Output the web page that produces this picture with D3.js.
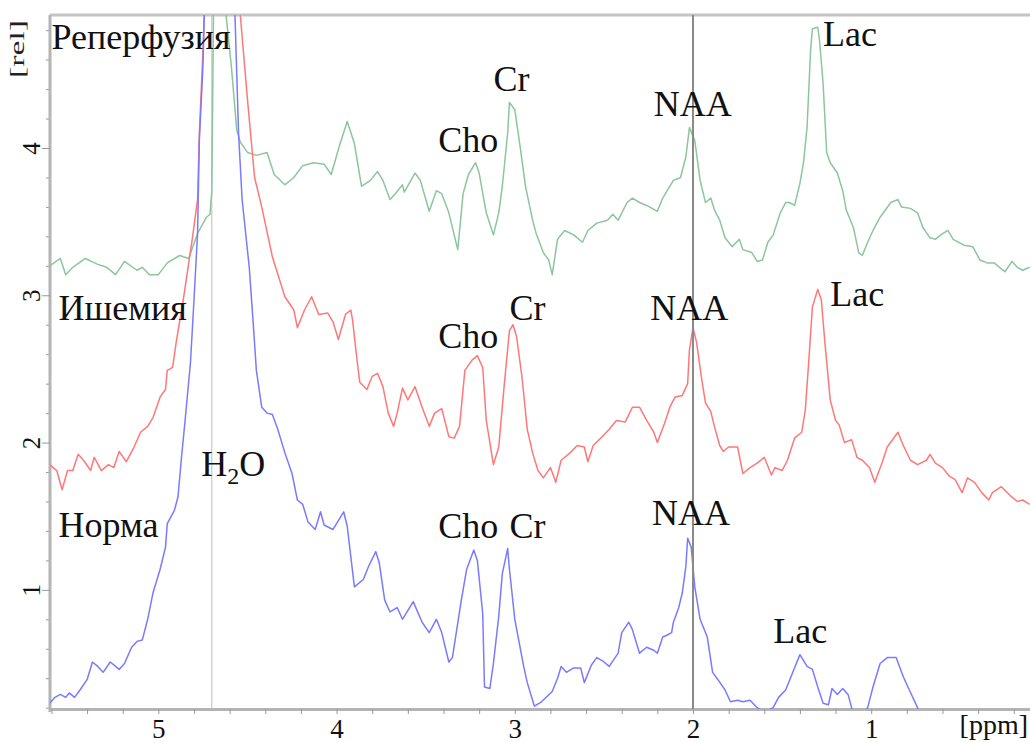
<!DOCTYPE html>
<html>
<head>
<meta charset="utf-8">
<script src="https://cdn.jsdelivr.net/npm/d3@7"></script>
<style>
  html, body { margin: 0; padding: 0; background: #fff; }
  #chart { width: 1030px; height: 743px; }
  svg { display: block; }
</style>
</head>
<body>
<div id="chart"></div>
<script>
// spectra: [ppm, rel]
const reperfusion = [[5.61,3.20],[5.55,3.25],[5.52,3.14],[5.48,3.19],[5.41,3.25],[5.34,3.21],[5.29,3.19],[5.24,3.14],[5.19,3.23],[5.12,3.17],[5.09,3.19],[5.05,3.14],[5.00,3.14],[4.95,3.22],[4.88,3.27],[4.83,3.25],[4.78,3.42],[4.73,3.53],[4.71,3.55],[4.70,3.71],[4.69,5.00],[4.66,8.0],[4.63,5.00],[4.62,4.90],[4.59,4.55],[4.56,4.12],[4.54,4.04],[4.50,3.97],[4.45,3.95],[4.39,3.97],[4.35,3.82],[4.29,3.75],[4.24,3.80],[4.19,3.88],[4.13,3.90],[4.07,3.89],[4.03,3.82],[3.98,4.03],[3.94,4.18],[3.90,4.03],[3.86,3.74],[3.81,3.78],[3.77,3.84],[3.74,3.78],[3.70,3.65],[3.67,3.69],[3.63,3.75],[3.62,3.70],[3.56,3.83],[3.53,3.78],[3.48,3.57],[3.44,3.71],[3.41,3.69],[3.37,3.56],[3.32,3.31],[3.29,3.69],[3.26,3.82],[3.22,3.90],[3.20,3.83],[3.16,3.56],[3.12,3.41],[3.09,3.56],[3.07,3.74],[3.04,4.10],[3.03,4.31],[3.00,4.26],[2.97,4.01],[2.94,3.74],[2.90,3.51],[2.88,3.42],[2.84,3.29],[2.81,3.24],[2.79,3.14],[2.76,3.38],[2.72,3.44],[2.67,3.41],[2.62,3.36],[2.59,3.44],[2.54,3.49],[2.48,3.51],[2.45,3.55],[2.42,3.51],[2.37,3.63],[2.34,3.66],[2.30,3.63],[2.26,3.61],[2.20,3.57],[2.17,3.66],[2.11,3.78],[2.07,3.80],[2.04,3.94],[2.02,4.14],[1.99,4.05],[1.96,3.78],[1.93,3.63],[1.90,3.66],[1.88,3.58],[1.85,3.51],[1.82,3.39],[1.78,3.33],[1.74,3.38],[1.72,3.31],[1.67,3.29],[1.64,3.23],[1.61,3.24],[1.58,3.36],[1.55,3.41],[1.51,3.56],[1.48,3.63],[1.46,3.63],[1.43,3.61],[1.40,3.76],[1.38,3.90],[1.36,4.14],[1.34,4.67],[1.33,4.81],[1.30,4.82],[1.29,4.73],[1.27,4.44],[1.25,3.97],[1.23,3.90],[1.19,3.83],[1.16,3.71],[1.14,3.58],[1.10,3.46],[1.07,3.29],[1.05,3.27],[1.02,3.36],[0.99,3.44],[0.95,3.53],[0.89,3.63],[0.85,3.65],[0.83,3.60],[0.78,3.59],[0.74,3.56],[0.71,3.46],[0.67,3.39],[0.64,3.38],[0.61,3.41],[0.57,3.44],[0.54,3.38],[0.48,3.34],[0.43,3.33],[0.39,3.24],[0.35,3.22],[0.31,3.22],[0.28,3.19],[0.25,3.16],[0.21,3.23],[0.18,3.19],[0.15,3.17],[0.11,3.19]];

const ischemia = [[5.61,1.85],[5.57,1.81],[5.54,1.68],[5.51,1.81],[5.48,1.81],[5.45,1.92],[5.42,1.88],[5.38,1.81],[5.36,1.90],[5.32,1.81],[5.28,1.85],[5.25,1.83],[5.22,1.94],[5.18,1.87],[5.14,1.96],[5.10,2.07],[5.06,2.11],[5.03,2.17],[4.99,2.31],[4.96,2.36],[4.95,2.49],[4.92,2.51],[4.90,2.68],[4.86,2.97],[4.81,3.38],[4.78,3.65],[4.77,4.10],[4.75,4.65],[4.74,5.00],[4.65,8.0],[4.55,5.00],[4.54,4.90],[4.50,4.33],[4.46,3.80],[4.42,3.60],[4.36,3.26],[4.29,2.99],[4.24,2.90],[4.22,2.78],[4.18,2.90],[4.14,2.99],[4.10,2.87],[4.05,2.88],[4.02,2.82],[3.99,2.70],[3.95,2.87],[3.92,2.90],[3.91,2.83],[3.89,2.61],[3.87,2.41],[3.83,2.36],[3.80,2.45],[3.77,2.47],[3.74,2.38],[3.71,2.20],[3.68,2.11],[3.66,2.20],[3.63,2.37],[3.60,2.29],[3.56,2.38],[3.52,2.24],[3.48,2.11],[3.45,2.20],[3.41,2.23],[3.37,2.04],[3.34,2.03],[3.31,2.11],[3.28,2.49],[3.24,2.56],[3.21,2.59],[3.18,2.51],[3.16,2.15],[3.12,1.85],[3.09,1.97],[3.06,2.38],[3.03,2.76],[3.01,2.80],[2.99,2.72],[2.96,2.45],[2.93,2.09],[2.90,1.93],[2.87,1.81],[2.84,1.76],[2.80,1.83],[2.77,1.73],[2.74,1.88],[2.69,1.93],[2.65,1.98],[2.61,1.97],[2.59,1.87],[2.56,1.98],[2.51,2.04],[2.47,2.09],[2.43,2.15],[2.38,2.14],[2.34,2.24],[2.30,2.24],[2.26,2.15],[2.22,2.07],[2.20,2.00],[2.16,2.13],[2.13,2.24],[2.10,2.31],[2.06,2.32],[2.03,2.40],[2.02,2.63],[2.00,2.78],[1.98,2.68],[1.95,2.42],[1.93,2.27],[1.90,2.21],[1.88,2.11],[1.85,1.98],[1.83,1.94],[1.80,1.97],[1.75,1.97],[1.72,1.79],[1.68,1.83],[1.64,1.86],[1.60,1.90],[1.56,1.78],[1.54,1.83],[1.50,1.81],[1.47,1.88],[1.43,2.03],[1.39,2.07],[1.37,2.22],[1.35,2.56],[1.33,2.92],[1.30,3.04],[1.28,2.97],[1.26,2.68],[1.23,2.29],[1.20,2.15],[1.18,2.12],[1.15,2.00],[1.11,2.02],[1.08,1.90],[1.05,1.88],[1.01,1.83],[0.98,1.73],[0.94,1.86],[0.91,1.97],[0.85,2.07],[0.82,1.98],[0.78,1.88],[0.74,1.85],[0.69,1.88],[0.67,1.92],[0.64,1.86],[0.60,1.83],[0.56,1.77],[0.53,1.75],[0.49,1.66],[0.46,1.76],[0.42,1.73],[0.38,1.66],[0.34,1.61],[0.32,1.66],[0.27,1.70],[0.22,1.64],[0.18,1.60],[0.15,1.61],[0.11,1.58]];

const norma = [[5.61,0.23],[5.58,0.27],[5.55,0.29],[5.52,0.27],[5.50,0.30],[5.47,0.27],[5.44,0.32],[5.40,0.39],[5.37,0.51],[5.34,0.48],[5.31,0.44],[5.27,0.51],[5.24,0.48],[5.22,0.46],[5.19,0.50],[5.15,0.61],[5.12,0.65],[5.09,0.66],[5.06,0.80],[5.03,0.98],[4.99,1.14],[4.96,1.29],[4.95,1.45],[4.91,1.54],[4.89,1.63],[4.87,1.90],[4.85,2.15],[4.82,2.54],[4.80,2.97],[4.78,3.42],[4.77,4.05],[4.75,4.55],[4.74,5.00],[4.66,8.0],[4.58,5.00],[4.57,4.90],[4.55,4.10],[4.53,3.65],[4.49,3.19],[4.47,2.85],[4.45,2.49],[4.42,2.24],[4.39,2.20],[4.36,2.19],[4.33,2.09],[4.29,1.93],[4.25,1.79],[4.22,1.61],[4.19,1.58],[4.16,1.46],[4.12,1.41],[4.09,1.53],[4.07,1.44],[4.02,1.41],[3.99,1.47],[3.96,1.53],[3.94,1.43],[3.90,1.02],[3.85,1.07],[3.82,1.16],[3.78,1.26],[3.76,1.18],[3.73,0.93],[3.70,0.85],[3.66,0.88],[3.63,0.80],[3.57,0.92],[3.52,0.78],[3.48,0.71],[3.44,0.80],[3.41,0.71],[3.37,0.51],[3.35,0.54],[3.30,0.93],[3.27,1.14],[3.23,1.27],[3.21,1.20],[3.18,0.84],[3.17,0.34],[3.14,0.33],[3.12,0.50],[3.09,0.82],[3.07,1.11],[3.04,1.28],[3.03,1.14],[3.00,0.80],[2.95,0.48],[2.93,0.37],[2.89,0.21],[2.85,0.24],[2.79,0.31],[2.76,0.40],[2.74,0.48],[2.71,0.44],[2.67,0.47],[2.63,0.47],[2.61,0.37],[2.57,0.49],[2.54,0.54],[2.51,0.52],[2.47,0.48],[2.42,0.57],[2.40,0.71],[2.36,0.78],[2.34,0.73],[2.30,0.57],[2.26,0.61],[2.22,0.59],[2.20,0.57],[2.17,0.68],[2.15,0.69],[2.12,0.71],[2.11,0.78],[2.08,0.88],[2.06,0.98],[2.04,1.16],[2.03,1.35],[2.01,1.29],[1.99,1.02],[1.96,0.80],[1.92,0.68],[1.89,0.44],[1.86,0.39],[1.82,0.32],[1.79,0.24],[1.75,0.25],[1.72,0.24],[1.68,0.25],[1.64,0.20],[1.60,0.17],[1.55,0.20],[1.52,0.27],[1.48,0.32],[1.44,0.44],[1.40,0.56],[1.36,0.48],[1.33,0.46],[1.30,0.34],[1.27,0.23],[1.24,0.22],[1.22,0.33],[1.19,0.29],[1.16,0.33],[1.13,0.29],[1.11,0.20],[1.07,0.08],[1.04,0.17],[1.02,0.20],[0.99,0.34],[0.95,0.50],[0.91,0.54],[0.86,0.54],[0.82,0.41],[0.79,0.33],[0.74,0.20],[0.70,0.05],[0.50,0.08],[0.28,0.05],[0.11,0.06]];

const series = [
  { name: 'reperfusion', values: reperfusion, color: '#8cc69c' },
  { name: 'ischemia', values: ischemia, color: '#ff7878' },
  { name: 'norma', values: norma, color: '#7a7aff' }
];

const xTickLabels = [5, 4, 3, 2, 1];
const yTickLabels = [1, 2, 3, 4];
const refLines = [{ ppm: 4.7, color: '#bdbdbd', width: 1 }, { ppm: 2.0, color: '#8a8a8a', width: 2 }];

// [text, ppm, rel] - left edge / baseline of each annotation
const groupLabels = [['Реперфузия', 5.60, 4.67], ['Ишемия', 5.56, 2.83], ['Норма', 5.56, 1.36]];
const peakLabels = [
  ['Cho', 3.43, 3.97], ['Cr', 3.12, 4.39], ['NAA', 2.22, 4.22], ['Lac', 1.27, 4.69],
  ['Cho', 3.43, 2.64], ['Cr', 3.03, 2.83], ['NAA', 2.24, 2.83], ['Lac', 1.23, 2.93],
  ['Cho', 3.43, 1.35], ['Cr', 3.03, 1.35], ['NAA', 2.23, 1.44], ['Lac', 1.55, 0.64]
];
const waterLabel = [4.76, 1.77];

class SpectrumChart {
  constructor(id) {
    this.id = id;
    this.width = 1030;
    this.height = 743;
    this.margin = { top: 15, right: 0, bottom: 34, left: 50 };
    this.font = "'Liberation Serif', 'Times New Roman', serif";
    this.axisColor = '#b4b4b4';
    this.init();
  }
  init() {
    this.initSvg();
    this.initScale();
    this.initAxis();
    this.drawRefLines();
    this.drawLines();
    this.drawLabels();
  }
  initSvg() {
    this.innerWidth = this.width - this.margin.left - this.margin.right;
    this.innerHeight = this.height - this.margin.top - this.margin.bottom;
    this.svg = d3.select(`#${this.id}`).append('svg')
      .attr('width', this.width)
      .attr('height', this.height)
      .attr('viewBox', `0 0 ${this.width} ${this.height}`);
    this.svg.append('defs').append('clipPath').attr('id', 'plotClip')
      .append('rect').attr('width', this.innerWidth).attr('height', this.innerHeight);
    this.mg = this.svg.append('g')
      .attr('transform', `translate(${this.margin.left},${this.margin.top})`);
  }
  initScale() {
    this.xScale = d3.scaleLinear().domain([5.608, 0.109]).range([0, this.innerWidth]);
    this.yScale = d3.scaleLinear().domain([0.191, 4.903]).range([this.innerHeight, 0]);
  }
  initAxis() {
    const isInt = d => Math.abs(d - Math.round(d)) < 1e-6;
    const steps = d3.range(1, 29).map(i => +(i * 0.2).toFixed(1));

    // top frame line
    this.mg.append('line')
      .attr('x1', 0).attr('x2', this.innerWidth)
      .attr('y1', 0).attr('y2', 0)
      .attr('stroke', '#c4c4c4').attr('stroke-width', 3);

    const xAxis = this.mg.append('g')
      .attr('font-family', this.font).attr('font-size', 27)
      .attr('transform', `translate(0,${this.innerHeight})`)
      .call(d3.axisBottom(this.xScale)
        .tickValues(steps.filter(d => d <= 5.6))
        .tickSize(5).tickSizeOuter(0)
        .tickFormat(d => (isInt(d) && xTickLabels.includes(Math.round(d))) ? Math.round(d) : ''));
    xAxis.attr('font-family', this.font).attr('font-size', 27);
    xAxis.select('.domain').attr('stroke', this.axisColor).attr('stroke-width', 3);
    xAxis.selectAll('.tick line').attr('stroke', '#999');
    xAxis.selectAll('.tick text')
      .attr('y', 29).attr('dy', null).attr('fill', '#111');

    const yMinor = this.mg.append('g')
      .call(d3.axisLeft(this.yScale)
        .tickValues(steps.filter(d => d <= 4.8 && !isInt(d)))
        .tickSize(4).tickSizeOuter(0).tickFormat(''));
    yMinor.select('.domain').remove();
    yMinor.selectAll('.tick line').attr('stroke', '#999');

    const yAxis = this.mg.append('g')
      .call(d3.axisLeft(this.yScale).tickValues(yTickLabels)
        .tickSize(8).tickSizeOuter(0).tickFormat(d3.format('d')));
    yAxis.attr('font-family', this.font).attr('font-size', 25);
    yAxis.select('.domain')
      .attr('d', `M0,0V${this.innerHeight + 3}`)
      .attr('stroke', this.axisColor).attr('stroke-width', 3);
    yAxis.selectAll('.tick line').attr('stroke', '#999');
    yAxis.selectAll('.tick text')
      .attr('x', 0).attr('dy', null)
      .attr('transform', 'translate(-10,0) rotate(-90)')
      .attr('text-anchor', 'middle')
      .attr('fill', '#111');

    // axis titles
    this.svg.append('text')
      .attr('transform', 'translate(24,49) rotate(-90)')
      .attr('text-anchor', 'middle')
      .attr('font-family', this.font).attr('font-size', 22)
      .attr('textLength', 58).attr('lengthAdjust', 'spacingAndGlyphs')
      .attr('fill', '#222')
      .text('[rel]');
    this.svg.append('text')
      .attr('x', 1028).attr('y', 734)
      .attr('text-anchor', 'end')
      .attr('font-family', this.font).attr('font-size', 28)
      .attr('fill', '#111')
      .text('[ppm]');
  }
  drawRefLines() {
    this.mg.append('g').selectAll('line')
      .data(refLines.filter(d => d.ppm > 4))
      .join('line')
      .attr('x1', d => this.xScale(d.ppm)).attr('x2', d => this.xScale(d.ppm))
      .attr('y1', 0).attr('y2', this.innerHeight)
      .attr('stroke', d => d.color).attr('stroke-width', d => d.width);
  }
  drawLines() {
    const line = d3.line()
      .x(d => this.xScale(d[0]))
      .y(d => this.yScale(d[1]));
    this.mg.append('g')
      .attr('clip-path', 'url(#plotClip)')
      .selectAll('path')
      .data(series)
      .join('path')
      .attr('d', d => line(d.values))
      .attr('fill', 'none')
      .attr('stroke', d => d.color)
      .attr('stroke-width', 1.5)
      .attr('stroke-linejoin', 'round');
    // NAA reference line sits above the spectra
    this.mg.append('g').selectAll('line')
      .data(refLines.filter(d => d.ppm < 4))
      .join('line')
      .attr('x1', d => this.xScale(d.ppm)).attr('x2', d => this.xScale(d.ppm))
      .attr('y1', 0).attr('y2', this.innerHeight)
      .attr('stroke', d => d.color).attr('stroke-width', d => d.width);
  }
  drawLabels() {
    const g = this.mg.append('g')
      .attr('font-family', this.font)
      .attr('fill', '#111');
    g.selectAll('text.label')
      .data(groupLabels.concat(peakLabels))
      .join('text')
      .attr('class', 'label')
      .attr('x', d => this.xScale(d[1]))
      .attr('y', d => this.yScale(d[2]))
      .attr('font-size', 36)
      .text(d => d[0]);
    const water = g.append('text')
      .attr('x', this.xScale(waterLabel[0]))
      .attr('y', this.yScale(waterLabel[1]))
      .attr('font-size', 36);
    water.append('tspan').text('H');
    water.append('tspan').attr('font-size', 24).attr('dy', 8).text('2');
    water.append('tspan').attr('dy', -8).text('O');
  }
}

new SpectrumChart('chart');
</script>
</body>
</html>
